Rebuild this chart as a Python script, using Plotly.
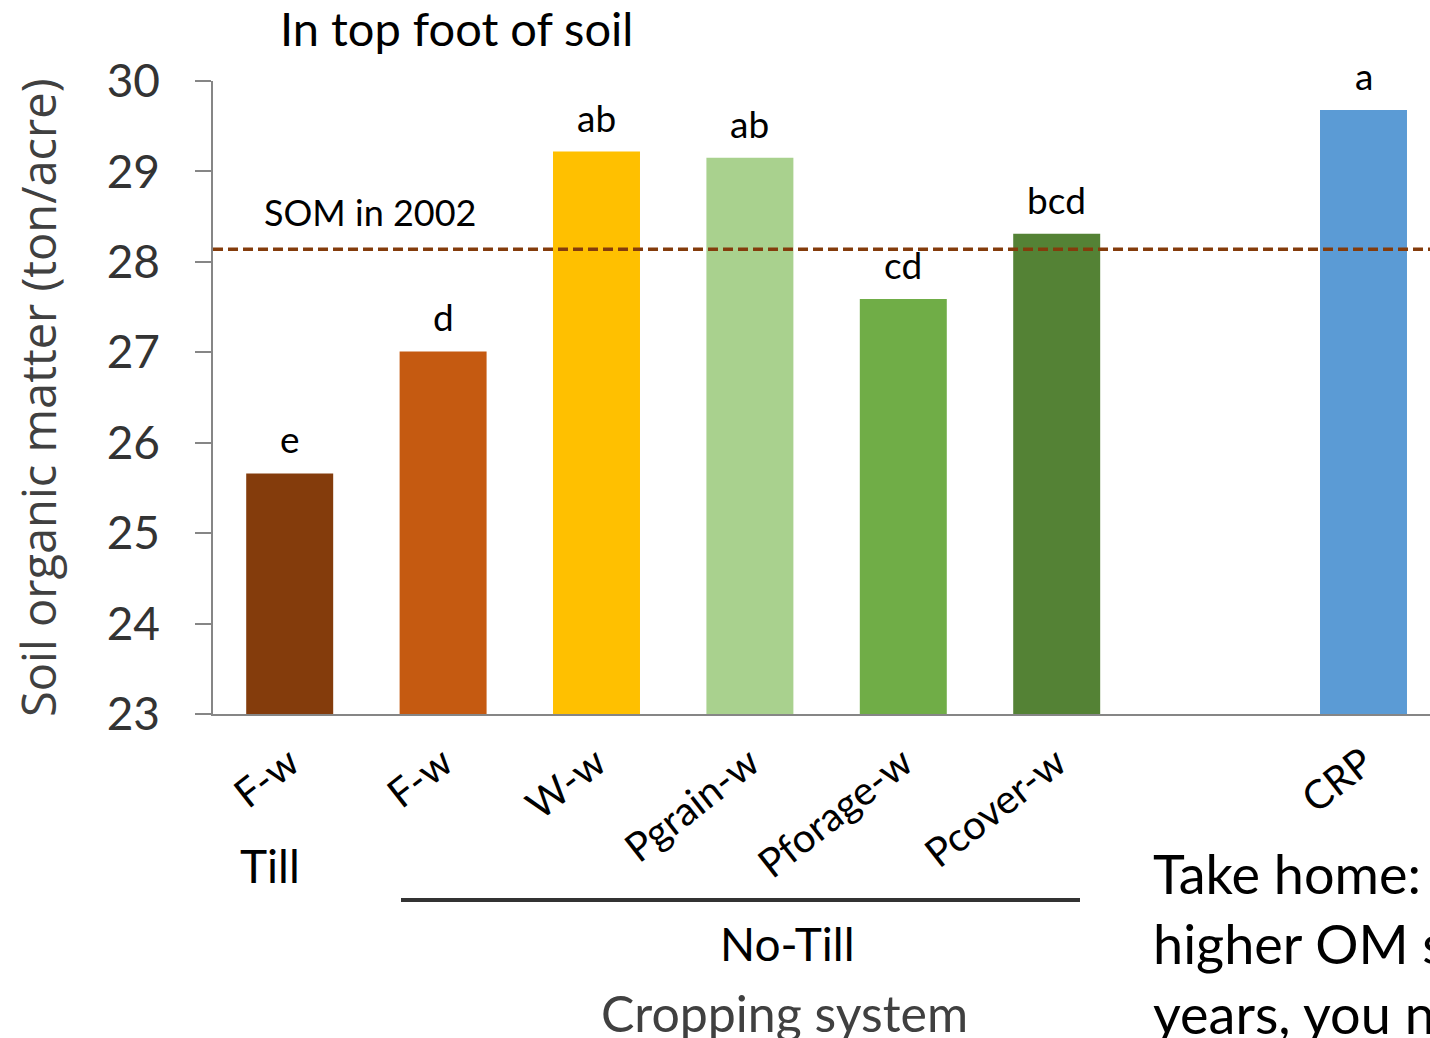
import plotly.graph_objects as go

# Cropping systems (blank slot separates the CRP bar)
categories = ["F-w", "F-w", "W-w", "Pgrain-w", "Pforage-w", "Pcover-w", "", "CRP"]
som_values = [25.66, 27.01, 29.22, 29.15, 27.59, 28.31, None, 29.68]
letters = ["e", "d", "ab", "ab", "cd", "bcd", "", "a"]
colors = ["#843C0C", "#C55A11", "#FFC000", "#A9D18E", "#70AD47", "#548235",
          "#FFFFFF", "#5B9BD5"]
som_2002 = 28.14
y_ticks = [23, 24, 25, 26, 27, 28, 29, 30]

W, H = 1430, 1038
L, R, T, B = 213, 0, 81, 324
PW, PH = W - L - R, H - T - B


def px_x(px):
    return (px - L) / PW


def px_y(py):
    return (H - B - py) / PH


FONT = "Lato"
positions = list(range(len(categories)))

fig = go.Figure()
fig.add_trace(go.Bar(
    x=positions, y=som_values, marker=dict(color=colors, line=dict(width=0)),
    width=0.567, hoverinfo="skip", showlegend=False,
))

# significance letters above bars
for xi, v, lab in zip(positions, som_values, letters):
    if v is None or not lab:
        continue
    fig.add_annotation(x=xi, y=v, text=lab, showarrow=False, yanchor="bottom",
                       yshift=10, font=dict(family=FONT, size=37, color="#000000"))

# 2002 reference level
fig.add_shape(type="line", xref="paper", yref="y", x0=0, x1=1, y0=som_2002, y1=som_2002,
              line=dict(color="#843C0C", width=3.5, dash="10px,5px"))
fig.add_annotation(xref="paper", yref="y", x=px_x(262), y=som_2002, text="SOM in 2002",
                   showarrow=False, xanchor="left", yanchor="bottom", yshift=13,
                   font=dict(family=FONT, size=36, color="#000000"))

# titles and group labels
fig.add_annotation(xref="paper", yref="paper", x=px_x(456), y=px_y(28), text="In top foot of soil",
                   showarrow=False, xanchor="center", yanchor="middle",
                   font=dict(family=FONT, size=47, color="#000000"))
fig.add_annotation(xref="paper", yref="paper", x=px_x(38), y=px_y(398),
                   text="Soil organic matter (ton/acre)", textangle=-90, showarrow=False,
                   xanchor="center", yanchor="middle",
                   font=dict(family="Open Sans", size=47, color="#404040"))
fig.add_annotation(xref="paper", yref="paper", x=px_x(270), y=px_y(865), text="Till",
                   showarrow=False, xanchor="center", yanchor="middle",
                   font=dict(family=FONT, size=46, color="#000000"))
fig.add_shape(type="line", xref="paper", yref="paper", x0=px_x(401), x1=px_x(1080),
              y0=px_y(900), y1=px_y(900), line=dict(color="#333333", width=4))
fig.add_annotation(xref="paper", yref="paper", x=px_x(787), y=px_y(943), text="No-Till",
                   showarrow=False, xanchor="center", yanchor="middle",
                   font=dict(family=FONT, size=46, color="#000000"))
fig.add_annotation(xref="paper", yref="paper", x=px_x(784), y=px_y(1013), text="Cropping system",
                   showarrow=False, xanchor="center", yanchor="middle",
                   font=dict(family=FONT, size=50, color="#404040"))
for line_text, py in [("Take home:", 873), ("higher OM s", 943), ("years, you n", 1013)]:
    fig.add_annotation(xref="paper", yref="paper", x=px_x(1151), y=px_y(py), text=line_text,
                       showarrow=False, xanchor="left", yanchor="middle",
                       font=dict(family=FONT, size=54, color="#000000"))

fig.update_layout(
    width=W, height=H, margin=dict(l=L, r=R, t=T, b=B),
    plot_bgcolor="white", paper_bgcolor="white", bargap=0.433,
    xaxis=dict(
        range=[-0.5, -0.5 + PW / 153.4], tickmode="array", tickvals=positions,
        ticktext=categories, tickangle=-38, showgrid=False, zeroline=False,
        showline=True, linecolor="#868686", linewidth=2, ticks="",
        ticklabelstandoff=8, tickfont=dict(family=FONT, size=40, color="#000000"),
    ),
    yaxis=dict(
        range=[23, 30], tickmode="array", tickvals=y_ticks, showgrid=False,
        zeroline=False, showline=True, linecolor="#868686", linewidth=1.5,
        ticks="outside", ticklen=16, tickcolor="#868686", tickwidth=1.5,
        ticklabelstandoff=26, tickfont=dict(family=FONT, size=46, color="#333333"),
    ),
)

fig.write_html("out.html")
